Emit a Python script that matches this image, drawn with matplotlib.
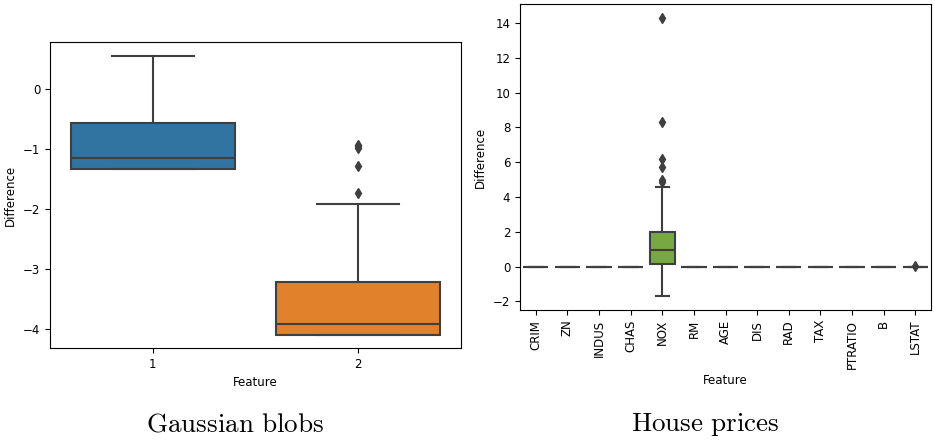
import matplotlib
matplotlib.use("Agg")
import matplotlib.pyplot as plt

# ---- Gaussian blobs data (box statistics) ----
blob_features = ["1", "2"]
blob_whislo = [-1.335, -4.10]
blob_q1 = [-1.335, -4.10]
blob_med = [-1.15, -3.92]
blob_q3 = [-0.57, -3.22]
blob_whishi = [0.55, -1.92]
blob_fliers = [[], [-0.93, -0.96, -0.99, -1.28, -1.73]]
blob_colors = ["#3274a1", "#e1812c"]

# ---- House prices data ----
house_features = ["CRIM", "ZN", "INDUS", "CHAS", "NOX", "RM", "AGE", "DIS",
                  "RAD", "TAX", "PTRATIO", "B", "LSTAT"]
house_whislo = [0, 0, 0, 0, -1.70, 0, 0, 0, 0, 0, 0, 0, 0]
house_q1 = [0, 0, 0, 0, 0.12, 0, 0, 0, 0, 0, 0, 0, 0]
house_med = [0, 0, 0, 0, 0.93, 0, 0, 0, 0, 0, 0, 0, 0]
house_q3 = [0, 0, 0, 0, 1.97, 0, 0, 0, 0, 0, 0, 0, 0]
house_whishi = [0, 0, 0, 0, 4.56, 0, 0, 0, 0, 0, 0, 0, 0]
house_fliers = [[], [], [], [], [14.3, 8.3, 6.2, 5.7, 4.95, 4.88],
                [], [], [], [], [], [], [], [0.02]]
house_colors = ["#d98a8a", "#d09a5c", "#b3a64f", "#95ad4a", "#78a843",
                "#4fae76", "#4daa9c", "#4fa7b3", "#55a2cf", "#8d98d9",
                "#bc8bd6", "#d585c4", "#d98aa6"]

GRAY = "#3f3f3f"
FS = 8.5


def draw(ax, feats, wlo, q1, med, q3, whi, fl, colors):
    stats = []
    for i, f in enumerate(feats):
        stats.append(dict(label=f, whislo=wlo[i], q1=q1[i], med=med[i],
                          q3=q3[i], whishi=whi[i], fliers=fl[i]))
    pos = list(range(len(feats)))
    res = ax.bxp(stats, positions=pos, widths=0.8, patch_artist=True,
                 showfliers=True,
                 boxprops=dict(edgecolor=GRAY, linewidth=1.5),
                 whiskerprops=dict(color=GRAY, linewidth=1.5),
                 capprops=dict(color=GRAY, linewidth=1.5),
                 medianprops=dict(color=GRAY, linewidth=1.5),
                 flierprops=dict(marker="d", markerfacecolor=GRAY,
                                 markeredgecolor=GRAY, markersize=5.5,
                                 linestyle="none"))
    for b, c in zip(res["boxes"], colors):
        b.set_facecolor(c)
    ax.set_xlim(-0.5, len(feats) - 0.5)
    ax.set_xlabel("Feature", fontsize=FS)
    ax.set_ylabel("Difference", fontsize=FS)
    ax.tick_params(labelsize=FS)


fig = plt.figure(figsize=(9.35, 4.4), dpi=100)
W, H = 935, 440
ax1 = fig.add_axes([50 / W, (H - 348) / H, 411 / W, 306 / H])
ax2 = fig.add_axes([520 / W, (H - 310) / H, 411 / W, 306 / H])

draw(ax1, blob_features, blob_whislo, blob_q1, blob_med, blob_q3,
     blob_whishi, blob_fliers, blob_colors)
ax1.set_ylim(-4.32, 0.78)
ax1.set_yticks([0, -1, -2, -3, -4])

draw(ax2, house_features, house_whislo, house_q1, house_med, house_q3,
     house_whishi, house_fliers, house_colors)
ax2.set_ylim(-2.5, 15.1)
ax2.set_yticks([-2, 0, 2, 4, 6, 8, 10, 12, 14])
ax2.set_xticks(range(len(house_features)))
ax2.set_xticklabels(house_features, rotation=90)

plt.rcParams["mathtext.fontset"] = "cm"
fig.text(235 / W, 1 - 424 / H, r"$\mathrm{Gaussian\ blobs}$", ha="center",
         va="center", fontsize=19.5)
fig.text(705 / W, 1 - 424 / H, r"$\mathrm{House\ prices}$", ha="center",
         va="center", fontsize=19.5)

fig.savefig("out.png", dpi=100)
